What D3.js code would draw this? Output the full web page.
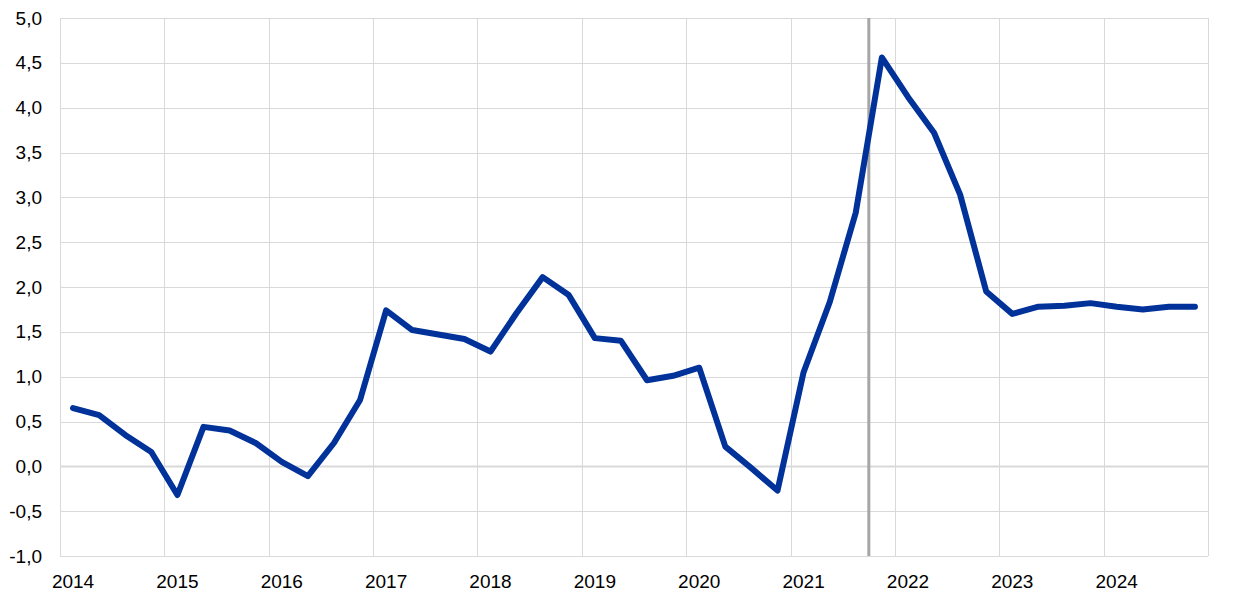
<!DOCTYPE html>
<html><head><meta charset="utf-8">
<script src="https://cdn.jsdelivr.net/npm/d3@7"></script>
<style>html,body{margin:0;padding:0;background:#fff;}svg{display:block;font-family:"Liberation Sans",Arial,sans-serif;}</style>
</head><body><svg id="c" width="1240" height="599"></svg>
<script>
const years = ["2014","2015","2016","2017","2018","2019","2020","2021","2022","2023","2024"];
const quarters = years.flatMap(y => ["Q1","Q2","Q3","Q4"].map(q => y + q));
const values = [0.65,0.57,0.35,0.16, -0.32,0.44,0.40,0.26, 0.05,-0.11,0.26,0.74,
  1.74,1.52,1.47,1.42, 1.28,1.71,2.11,1.91, 1.43,1.40,0.96,1.01,
  1.10,0.22,-0.02,-0.27, 1.05,1.83,2.83,4.56, 4.12,3.72,3.03,1.95,
  1.70,1.78,1.79,1.82, 1.78,1.75,1.78,1.78];
const yTicks = [-1,-0.5,0,0.5,1,1.5,2,2.5,3,3.5,4,4.5,5];
const markerAfter = "2021Q3"; // vertical line between 2021Q3 and 2021Q4

const svg = d3.select("#c");
const L=60, R=1208, T=18, B=556;
const x = d3.scaleBand().domain(quarters).range([L,R]).paddingInner(0).paddingOuter(0);
const y = d3.scaleLinear().domain([-1,5]).range([B,T]);
const fmt = v => d3.format(".1f")(v).replace(".",",").replace("−","-");

// horizontal grid
svg.append("g").selectAll("line").data(yTicks).join("line")
  .attr("x1",L).attr("x2",R).attr("y1",d=>Math.round(y(d))+0.5).attr("y2",d=>Math.round(y(d))+0.5)
  .attr("stroke","#d9d9d9").attr("stroke-width",d=>d===0?2:1);
// vertical grid at year boundaries
const yearStarts = years.map(yv => yv+"Q1").concat([null]);
svg.append("g").selectAll("line").data(yearStarts).join("line")
  .attr("x1",d=>Math.round(d?x(d):R)+0.5).attr("x2",d=>Math.round(d?x(d):R)+0.5)
  .attr("y1",T).attr("y2",B).attr("stroke","#d9d9d9").attr("stroke-width",1);

// y labels
svg.append("g").selectAll("text").data(yTicks).join("text")
  .attr("x",42).attr("y",d=>y(d)).attr("dy","0.35em").attr("text-anchor","end")
  .attr("font-size",19).attr("fill","#000").text(fmt);
// x labels
svg.append("g").selectAll("text").data(years).join("text")
  .attr("x",d=>x(d+"Q1")+x.bandwidth()/2).attr("y",588).attr("text-anchor","middle")
  .attr("font-size",19).attr("fill","#000").text(d=>d);

// marker line
const mx = x(markerAfter)+x.bandwidth();
svg.append("line").attr("x1",mx).attr("x2",mx).attr("y1",T).attr("y2",B)
  .attr("stroke","#a6a6a6").attr("stroke-width",3);

// series
const line = d3.line().x((d,i)=>x(quarters[i])+x.bandwidth()/2).y(d=>y(d));
svg.append("path").datum(values).attr("d",line).attr("fill","none")
  .attr("stroke","#003299").attr("stroke-width",6).attr("stroke-linejoin","round").attr("stroke-linecap","round");
</script></body></html>
